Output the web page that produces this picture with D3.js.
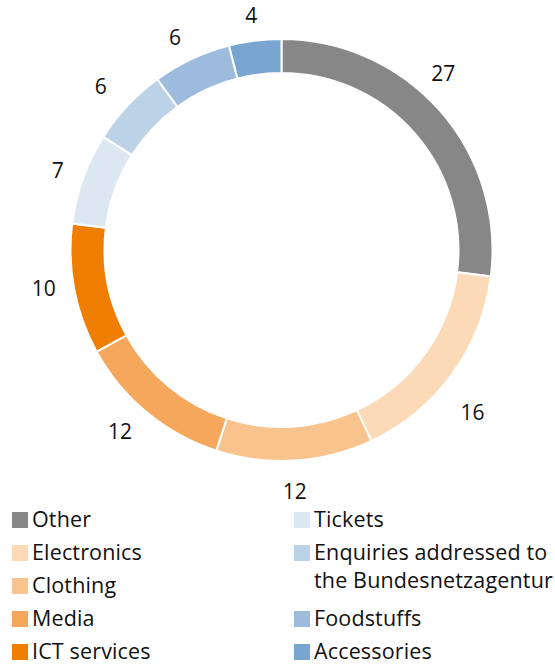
<!DOCTYPE html>
<html>
<head>
<meta charset="utf-8">
<script src="https://cdn.jsdelivr.net/npm/d3@7"></script>
<style>
  html, body { margin: 0; padding: 0; background: #fff; }
  svg { display: block; }
  text { font-family: "Open Sans", "Noto Sans", sans-serif; fill: #111; }
</style>
</head>
<body>
<svg id="chart" width="555" height="664"></svg>
<script>
// Complaint categories (share in %), clockwise from 12 o'clock
const categories = ["Other", "Electronics", "Clothing", "Media", "ICT services",
                    "Tickets", "Enquiries addressed to the Bundesnetzagentur", "Foodstuffs", "Accessories"];
const values = [27, 16, 12, 12, 10, 7, 6, 6, 4];
const colors = ["#878787", "#fcdab8", "#f9c38d", "#f5a75b", "#ef7d00",
                "#dde7f2", "#bcd2e7", "#9dbcdd", "#78a6d0"];
// Legend lines (a category may wrap onto two lines)
const legendLines = [["Other"], ["Electronics"], ["Clothing"], ["Media"], ["ICT services"],
                     ["Tickets"], ["Enquiries addressed to", "the Bundesnetzagentur"], ["Foodstuffs"], ["Accessories"]];

const svg = d3.select("#chart");
const cx = 281.5, cy = 250, rOuter = 211, rInner = 177, rLabel = 241;
// small hand offsets so value labels clear the ring nicely
const labelNudge = [[-19, -18], [-4, 20], [-2, 0], [-8, -5], [-1, -7], [3, 2], [-5, 1], [-4, 5], [0, 4]];

const data = categories.map((c, i) => ({ name: c, value: values[i], color: colors[i], lines: legendLines[i] }));

const pie = d3.pie().sort(null).value(d => d.value);
const arc = d3.arc().innerRadius(rInner).outerRadius(rOuter);
const labelArc = d3.arc().innerRadius(rLabel).outerRadius(rLabel);

const g = svg.append("g").attr("transform", `translate(${cx},${cy})`);
const arcs = pie(data);

g.selectAll("path.slice")
  .data(arcs)
  .join("path")
  .attr("class", "slice")
  .attr("d", arc)
  .attr("fill", d => d.data.color)
  .attr("stroke", "#fff")
  .attr("stroke-width", 2);

g.selectAll("text.value")
  .data(arcs)
  .join("text")
  .attr("class", "value")
  .attr("transform", (d, i) => {
    const [x, y] = labelArc.centroid(d);
    return `translate(${x + labelNudge[i][0]},${y + labelNudge[i][1]})`;
  })
  .attr("text-anchor", "middle")
  .attr("dominant-baseline", "central")
  .style("font-size", "21px")
  .text(d => d.data.value);

// Legend: two columns, rows of 33px; wrapped lines step 28px
const legend = svg.append("g");
const colX = [12, 294];
const rowH = 33, lineH = 28, legendTop = 527;
const perCol = 5;
[0, 1].forEach(col => {
  let y = legendTop;
  data.slice(col * perCol, col * perCol + perCol).forEach(d => {
    const item = legend.append("g");
    item.append("rect")
      .attr("x", colX[col]).attr("y", y - 15)
      .attr("width", 16).attr("height", 16)
      .attr("fill", d.color);
    d.lines.forEach((ln, k) => {
      item.append("text")
        .attr("x", colX[col] + 20)
        .attr("y", y + k * lineH)
        .style("font-size", "21.5px")
        .style("letter-spacing", "0.15px")
        .text(ln);
    });
    y += rowH * d.lines.length;
  });
});
</script>
</body>
</html>
